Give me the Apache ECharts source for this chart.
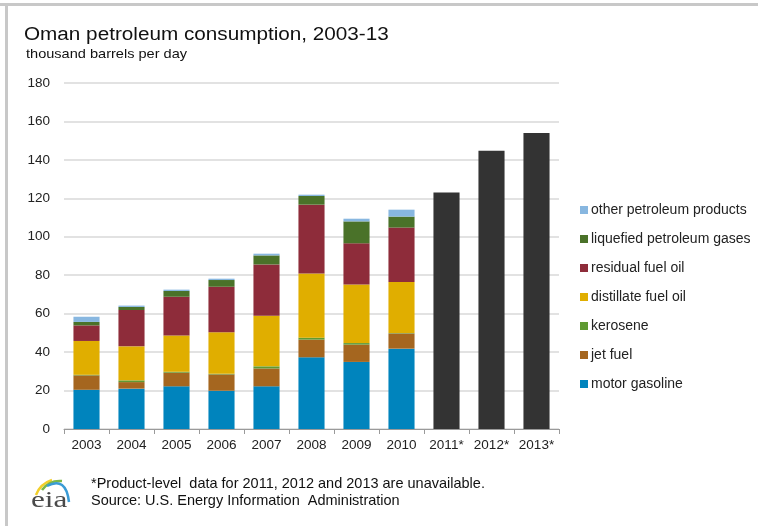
<!DOCTYPE html>
<html>
<head>
<meta charset="utf-8">
<script src="https://cdn.jsdelivr.net/npm/echarts@6/dist/echarts.min.js"></script>
<style>
html,body{margin:0;padding:0;background:#fff;}
#chart{width:758px;height:526px;}
</style>
</head>
<body>
<div id="chart"></div>
<script>
var years = ['2003','2004','2005','2006','2007','2008','2009','2010','2011*','2012*','2013*'];
var yTicks = [0,20,40,60,80,100,120,140,160,180];
var motorGasoline = [20.4,21.0,22.2,19.9,22.2,37.3,34.9,41.8,null,null,null];
var jetFuel       = [7.5,3.4,7.1,8.5,9.3,9.2,9.0,7.9,null,null,null];
var kerosene      = [0.3,0.9,0.5,0.3,1.1,1.0,0.8,0.2,null,null,null];
var distillate    = [17.6,17.7,18.9,21.6,26.3,33.4,30.5,26.6,null,null,null];
var residual      = [8.1,18.9,20.1,23.7,26.7,35.8,21.4,28.3,null,null,null];
var lpg           = [1.8,1.6,3.0,3.5,4.7,4.5,11.4,5.7,null,null,null];
var otherProducts = [2.7,0.7,0.7,0.7,0.9,0.7,1.4,3.6,null,null,null];
var totalOnly     = [null,null,null,null,null,null,null,null,123.0,144.8,154.0];

var names = ['motor gasoline','jet fuel','kerosene','distillate fuel oil','residual fuel oil','liquefied petroleum gases','other petroleum products'];
var colors = ['#0084bd','#a5661f','#5f9a32','#e0ae00','#8e2c3a','#4a7229','#88b7e0'];
var seriesData = [motorGasoline,jetFuel,kerosene,distillate,residual,lpg,otherProducts];

var FONT = '"Liberation Sans", Arial, sans-serif';
var series = seriesData.map(function(d,i){
  return {name:names[i], type:'bar', stack:'total', data:d, barWidth:'58%',
    itemStyle:{color:colors[i]}, emphasis:{disabled:true}, animation:false};
});
series.push({name:'total', type:'bar', stack:'total', data:totalOnly, barWidth:'58%',
  itemStyle:{color:'#333333'}, emphasis:{disabled:true}, animation:false});

var chart = echarts.init(document.getElementById('chart'), null, {renderer:'canvas'});
chart.setOption({
  animation:false,
  backgroundColor:'#ffffff',
  grid:{left:64,right:199,top:83,bottom:97,containLabel:false},
  legend:{
    orient:'vertical', left:575, top:198, itemWidth:8, itemHeight:8, itemGap:15,
    icon:'rect', selectedMode:false,
    data:names.slice().reverse(),
    textStyle:{fontFamily:FONT, fontSize:14, color:'#222', lineHeight:14, padding:[0,0,0,-2]}
  },
  xAxis:{
    type:'category', data:years,
    axisLine:{lineStyle:{color:'#9a9a9a',width:1}},
    axisTick:{show:true, alignWithLabel:false, length:5, lineStyle:{color:'#9a9a9a'}},
    axisLabel:{fontFamily:FONT, fontSize:13.5, color:'#222', margin:9, interval:0, hideOverlap:false}
  },
  yAxis:{
    type:'value', min:0, max:180, interval:20,
    axisLine:{show:false}, axisTick:{show:false},
    splitLine:{lineStyle:{color:'#d9d9d9',width:1.5}},
    axisLabel:{fontFamily:FONT, fontSize:13.5, color:'#222', margin:14,
      formatter:function(v){return yTicks.indexOf(v)>=0? String(v):'';}}
  },
  graphic:[
    {type:'rect', shape:{x:0,y:3,width:758,height:3}, style:{fill:'#c8c8c8'}, silent:true},
    {type:'rect', shape:{x:5,y:3,width:3,height:523}, style:{fill:'#c8c8c8'}, silent:true},
    {type:'text', x:24, y:26, scaleX:1.15, style:{text:'Oman petroleum consumption, 2003-13', font:'18px '+FONT, fill:'#111'}},
    {type:'text', x:26, y:48, scaleX:1.12, style:{text:'thousand barrels per day', font:'13px '+FONT, fill:'#111'}},
    {type:'text', x:91, y:476, style:{text:'*Product-level  data for 2011, 2012 and 2013 are unavailable.', font:'14.5px '+FONT, fill:'#111'}},
    {type:'text', x:91, y:493, style:{text:'Source: U.S. Energy Information  Administration', font:'14.5px '+FONT, fill:'#111'}},
    {type:'text', x:31, y:489, scaleX:1.3, style:{text:'eia', font:'24px "Liberation Serif", "DejaVu Serif", serif', fill:'#4a4a4a'}},
    {type:'bezierCurve', shape:{x1:36,y1:495,cpx1:40,cpy1:484,x2:52,y2:480}, style:{stroke:'#f2cf2a',lineWidth:2.5,fill:null}},
    {type:'bezierCurve', shape:{x1:42,y1:490,cpx1:49,cpy1:480,x2:62,y2:481}, style:{stroke:'#7ab648',lineWidth:2.5,fill:null}},
    {type:'bezierCurve', shape:{x1:47,y1:486,cpx1:66,cpy1:476,x2:69,y2:502}, style:{stroke:'#3a9bd5',lineWidth:2.5,fill:null}}
  ],
  series:series
});
</script>
</body>
</html>
